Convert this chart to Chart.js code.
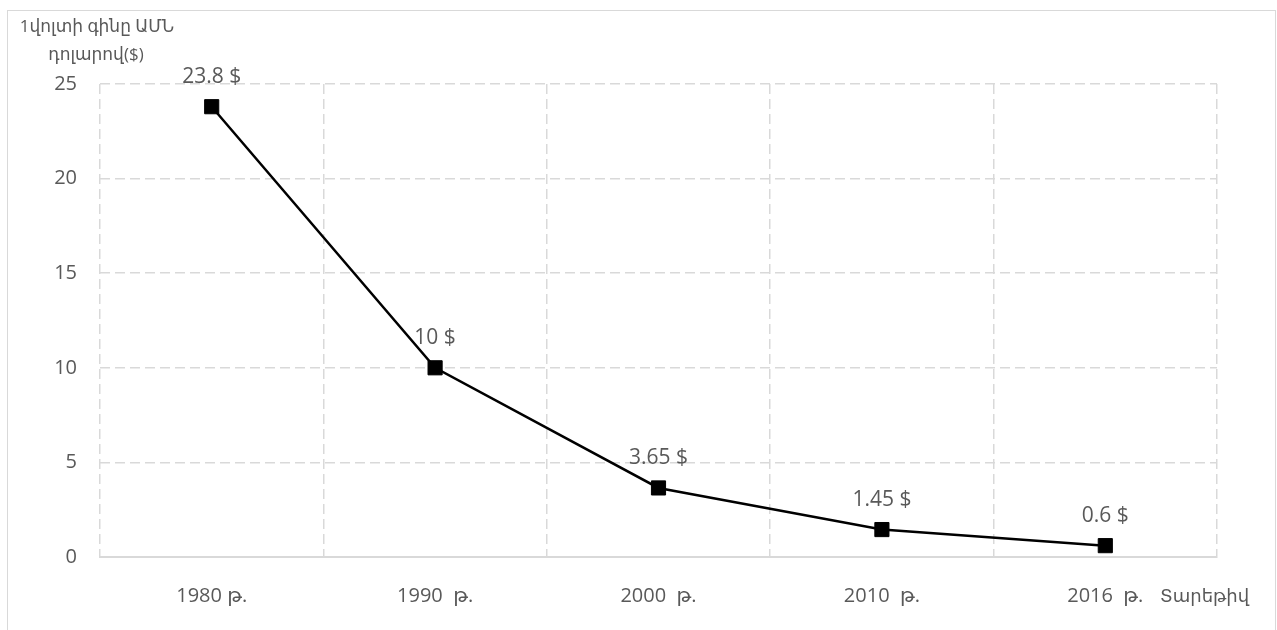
<!DOCTYPE html>
<html>
<head>
<meta charset="utf-8">
<script src="https://cdn.jsdelivr.net/npm/chart.js@4/dist/chart.umd.min.js"></script>
<style>
  html, body { margin: 0; padding: 0; background: #ffffff; }
  #wrap { position: relative; width: 1277px; height: 630px; }
</style>
</head>
<body>
<div id="wrap"><canvas id="c" width="1277" height="630"></canvas></div>
<script>
// Price of 1 watt (USD) by year
const years = ['1980 թ.', '1990  թ.', '2000  թ.', '2010  թ.', '2016  թ.'];
const prices = [23.8, 10, 3.65, 1.45, 0.6];
const priceLabels = ['23.8 $', '10 $', '3.65 $', '1.45 $', '0.6 $'];
const yTicks = [0, 5, 10, 15, 20, 25];
const yTitleLines = ['1վոլտի գինը ԱՄՆ', 'դոլարով($)'];
const xTitle = 'Տարեթիվ';

const FONT = "'Open Sans', 'DejaVu Sans', sans-serif";
const GRID = '#d9d9d9';
const TEXT = '#595959';
const DASH = [10, 5];

// outer frame around the whole chart
const framePlugin = {
  id: 'frame',
  beforeDraw(chart) {
    const ctx = chart.ctx;
    ctx.save();
    ctx.fillStyle = '#ffffff';
    ctx.fillRect(0, 0, chart.width, chart.height);
    ctx.strokeStyle = GRID;
    ctx.lineWidth = 1;
    ctx.strokeRect(7.5, 10.5, 1268, 700);
    ctx.restore();
  }
};

// value labels above the markers, plus the axis captions
const labelPlugin = {
  id: 'labels',
  afterDatasetsDraw(chart) {
    const ctx = chart.ctx;
    const meta = chart.getDatasetMeta(0);
    ctx.save();
    ctx.fillStyle = TEXT;
    ctx.font = "21px " + FONT;
    ctx.textAlign = 'center';
    ctx.textBaseline = 'middle';
    meta.data.forEach((pt, i) => {
      ctx.fillText(priceLabels[i], pt.x, pt.y - 30);
    });

    const area = chart.chartArea;
    ctx.fillStyle = TEXT;
    ctx.font = "17px " + FONT;
    ctx.textAlign = 'center';
    ctx.fillText(yTitleLines[0], area.left - 3, area.top - 57);
    ctx.fillText(yTitleLines[1], area.left - 4, area.top - 29);

    ctx.textAlign = 'left';
    ctx.font = "18px " + FONT;
    ctx.fillText(xTitle, area.right - 57, area.bottom + 40);
    ctx.restore();
  }
};

new Chart(document.getElementById('c'), {
  type: 'line',
  data: {
    labels: years,
    datasets: [{
      data: prices,
      borderColor: '#000000',
      borderWidth: 2.5,
      pointStyle: 'rect',
      pointRadius: 10,
      pointHoverRadius: 10,
      pointBackgroundColor: '#000000',
      pointBorderColor: '#000000',
      pointBorderWidth: 1,
      tension: 0,
      clip: false
    }]
  },
  options: {
    responsive: false,
    animation: false,
    events: [],
    layout: { padding: { top: 84, right: 60, left: 0, bottom: 0 } },
    plugins: {
      legend: { display: false },
      tooltip: { enabled: false },
      title: { display: false }
    },
    scales: {
      x: {
        type: 'category',
        offset: true,
        grid: {
          display: true,
          offset: true,
          color: GRID,
          lineWidth: 1.5,
          drawTicks: false
        },
        border: { display: true, color: GRID, width: 2, dash: DASH },
        ticks: {
          color: TEXT,
          font: { family: FONT, size: 20 },
          padding: 27,
          maxRotation: 0
        },
        afterFit(scale) { scale.height = 73; }
      },
      y: {
        min: 0,
        max: 25,
        afterBuildTicks(scale) { scale.ticks = yTicks.map(v => ({ value: v })); },
        grid: {
          color: GRID,
          lineWidth: 1.5,
          drawTicks: false
        },
        border: { display: false, dash: DASH },
        ticks: {
          color: TEXT,
          font: { family: FONT, size: 20 },
          padding: 23
        },
        afterFit(scale) { scale.width = 100; }
      }
    }
  },
  plugins: [framePlugin, labelPlugin]
});
</script>
</body>
</html>
